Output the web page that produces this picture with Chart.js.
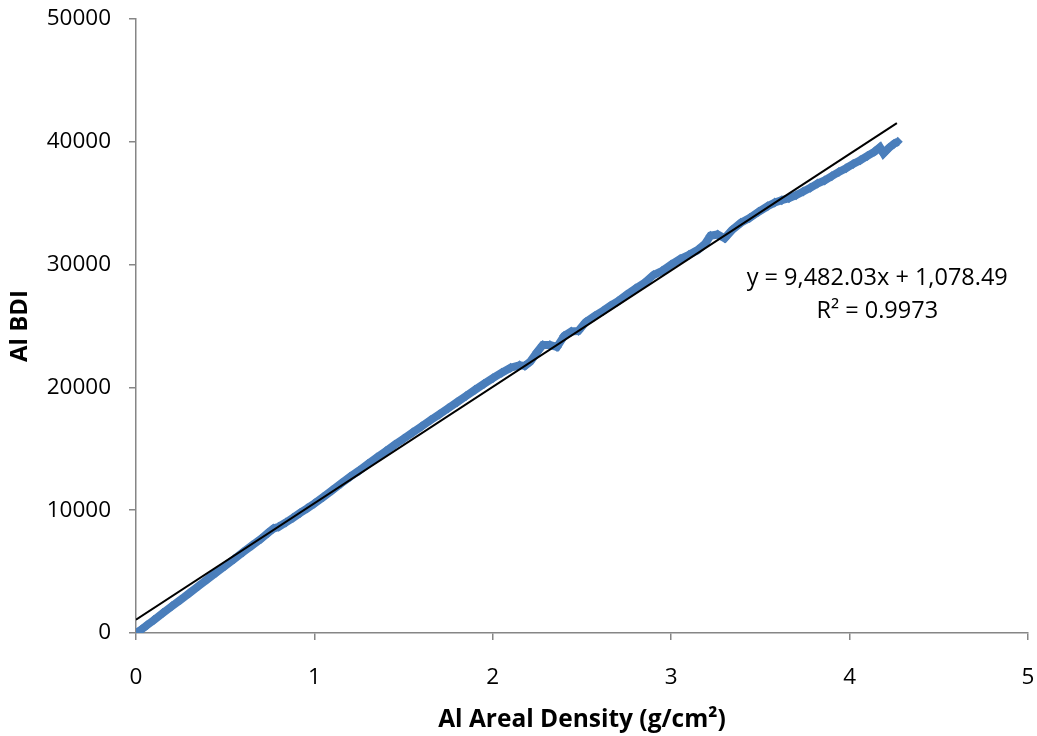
<!DOCTYPE html>
<html>
<head>
<meta charset="utf-8">
<script src="https://cdn.jsdelivr.net/npm/chart.js@4/dist/chart.umd.min.js"></script>
<style>
  html, body { margin: 0; padding: 0; background: #fff; }
  #wrap { width: 1037px; height: 736px; position: relative; }
</style>
</head>
<body>
<div id="wrap"><canvas id="c" width="1037" height="736"></canvas></div>
<script>
const densityX = [0.00, 0.03, 0.06, 0.10, 0.15, 0.20, 0.25, 0.30, 0.35, 0.40, 0.45, 0.50, 0.55, 0.60, 0.65, 0.70, 0.74, 0.77, 0.80, 0.84,
  0.88, 0.92, 0.96, 1.00, 1.05, 1.10, 1.15, 1.20, 1.25, 1.30, 1.35, 1.40, 1.45, 1.50, 1.55, 1.60, 1.65, 1.70, 1.75, 1.80,
  1.85, 1.90, 1.95, 2.00, 2.05, 2.10, 2.15, 2.18, 2.21, 2.25, 2.28, 2.32, 2.36, 2.40, 2.44, 2.48, 2.52, 2.57, 2.62, 2.66,
  2.70, 2.75, 2.80, 2.85, 2.90, 2.95, 3.00, 3.05, 3.10, 3.15, 3.19, 3.22, 3.26, 3.30, 3.34, 3.39, 3.44, 3.49, 3.54, 3.58,
  3.62, 3.66, 3.70, 3.74, 3.78, 3.82, 3.86, 3.90, 3.94, 3.98, 4.02, 4.06, 4.10, 4.14, 4.17, 4.19, 4.22, 4.25, 4.27];
const bdiY = [0, 280, 620, 1050, 1620, 2170, 2700, 3260, 3820, 4380, 4920, 5470, 6020, 6580, 7120, 7660, 8150, 8500, 8650, 9000,
  9380, 9780, 10150, 10550, 11080, 11620, 12180, 12720, 13220, 13760, 14300, 14800, 15320, 15820, 16320, 16820, 17320, 17800, 18300, 18800,
  19300, 19800, 20280, 20750, 21200, 21600, 21800, 21750, 22100, 22900, 23450, 23450, 23300, 24200, 24550, 24600, 25300, 25800, 26250, 26650,
  27000, 27550, 28050, 28500, 29150, 29500, 30000, 30450, 30800, 31200, 31700, 32350, 32450, 32150, 32800, 33400, 33800, 34300, 34750, 35050,
  35250, 35400, 35650, 35950, 36250, 36600, 36850, 37200, 37550, 37850, 38200, 38500, 38850, 39200, 39550, 39050, 39500, 39850, 40000];

// linear trendline end points
const trendX = [0, 4.265];
const trendY = [1078.49, 41520];

const trendText = ["y = 9,482.03x + 1,078.49", "R\u00b2 = 0.9973"];
const xTitle = "Al Areal Density (g/cm\u00b2)";
const yTitle = "Al BDI";

const FONT = "'Open Sans', 'DejaVu Sans', sans-serif";
const AXIS = "#868686";

function toPoints(xs, ys) {
  return xs.map((x, i) => ({ x: x, y: ys[i] }));
}

const trendLabel = {
  id: "trendLabel",
  afterDatasetsDraw(chart) {
    const ctx = chart.ctx;
    const xs = chart.scales.x, ys = chart.scales.y;
    const cx = xs.getPixelForValue(4.155);
    const cy = ys.getPixelForValue(28850);
    ctx.save();
    ctx.fillStyle = "#000";
    ctx.font = "23.5px " + FONT;
    ctx.textAlign = "center";
    ctx.textBaseline = "middle";
    ctx.fillText(trendText[0], cx, cy);
    ctx.fillText(trendText[1], cx, cy + 33);
    ctx.restore();
  }
};

new Chart(document.getElementById("c"), {
  type: "scatter",
  data: {
    datasets: [
      {
        label: "BDI",
        data: toPoints(densityX, bdiY),
        showLine: true,
        borderColor: "#4a7ebb",
        backgroundColor: "#4a7ebb",
        borderWidth: 8,
        pointStyle: "rectRot",
        pointRadius: 5,
        pointBorderWidth: 0,
        order: 2
      },
      {
        label: "Linear",
        data: toPoints(trendX, trendY),
        showLine: true,
        borderColor: "#000",
        borderWidth: 2,
        pointRadius: 0,
        order: 1
      }
    ]
  },
  options: {
    responsive: false,
    animation: false,
    layout: { padding: { top: 19, right: 9, left: 0, bottom: 0 } },
    plugins: { legend: { display: false }, tooltip: { enabled: false } },
    scales: {
      x: {
        type: "linear",
        min: 0, max: 5,
        afterFit(s) { s.height = 103; s.paddingLeft = 0; s.paddingRight = 0; },
        border: { color: AXIS, width: 1.5 },
        grid: { drawOnChartArea: false, drawTicks: true, tickLength: 7, color: AXIS, lineWidth: 1.5 },
        ticks: { stepSize: 1, color: "#000", font: { family: FONT, size: 22.5 }, padding: 24, maxRotation: 0 },
        title: { display: true, text: xTitle, color: "#000", font: { family: FONT, size: 24.5, weight: "bold" }, padding: { top: 0, bottom: 1 } }
      },
      y: {
        type: "linear",
        min: 0, max: 50000,
        afterFit(s) { s.width = 136; s.paddingTop = 0; s.paddingBottom = 0; },
        border: { color: AXIS, width: 1.5 },
        grid: { drawOnChartArea: false, drawTicks: true, tickLength: 7, color: AXIS, lineWidth: 1.5 },
        ticks: { stepSize: 10000, color: "#000", font: { family: FONT, size: 22.5 }, padding: 18, callback: (v) => String(v) },
        title: { display: true, text: yTitle, color: "#000", font: { family: FONT, size: 24, weight: "bold" }, padding: { top: 6, bottom: 0 } }
      }
    }
  },
  plugins: [trendLabel]
});
</script>
</body>
</html>
